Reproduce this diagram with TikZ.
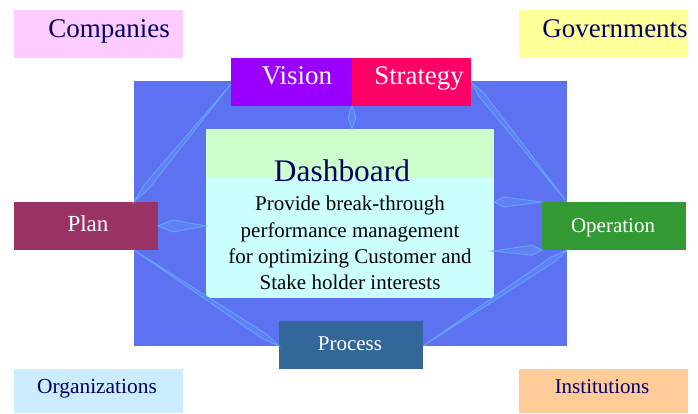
\documentclass[tikz,border=0pt]{standalone}
\usepackage{fontspec}
\setmainfont{Liberation Serif}
\usetikzlibrary{calc}
\definecolor{bgblue}{RGB}{92,114,240}
\definecolor{kiteblue}{RGB}{102,163,255}
\definecolor{navy}{RGB}{0,0,102}
\definecolor{cpink}{RGB}{255,204,255}
\definecolor{cyellow}{RGB}{255,255,153}
\definecolor{clblue}{RGB}{204,236,255}
\definecolor{corange}{RGB}{255,204,153}
\definecolor{cvision}{RGB}{153,0,255}
\definecolor{cstrat}{RGB}{255,0,102}
\definecolor{cplan}{RGB}{153,51,102}
\definecolor{coper}{RGB}{51,153,51}
\definecolor{cproc}{RGB}{51,102,153}
\definecolor{cdgreen}{RGB}{204,255,204}
\definecolor{cdcyan}{RGB}{204,255,255}
\newcommand\kite[4]{%
  \draw[kitestyle] (#1) -- ($(#1)!#3!(#2)!#4pt!90:(#2)$) -- (#2)
    -- ($(#1)!#3!(#2)!#4pt!-90:(#2)$) -- cycle;}
\begin{document}
\begin{tikzpicture}[x=1pt,y=-1pt,
  box/.style={inner sep=0pt, outer sep=0pt, anchor=north west, draw=none},
  corner/.style={box, minimum width=169pt, minimum height=48pt},
  cornertext/.style={inner sep=0pt, anchor=base, text=navy},
  white/.style={inner sep=0pt, anchor=base, text=white},
  kitestyle/.style={draw=kiteblue, line width=0.9pt, line join=miter, fill=bgblue!70!kiteblue}]
\useasboundingbox (0,0) rectangle (698,413);
% corner boxes
\node[corner, fill=cpink] (comp) at (14,10) {};
\node[cornertext, font=\fontsize{27}{30}\selectfont] (comptxt) at (109,37) {Companies};
\node[corner, fill=cyellow] (gov) at (519,10) {};
\node[cornertext, font=\fontsize{27}{30}\selectfont] (govtxt) at (615,37) {Governments};
\node[corner, fill=clblue, minimum height=44pt] (org) at (14,369) {};
\node[cornertext, font=\fontsize{21.4}{24}\selectfont] (orgtxt) at (97,393) {Organizations};
\node[corner, fill=corange, minimum height=44pt] (inst) at (519,369) {};
\node[cornertext, font=\fontsize{21}{24}\selectfont] (insttxt) at (602,393) {Institutions};
% background
\node[box, fill=bgblue, minimum width=433pt, minimum height=265pt] (bg) at (134,81) {};
% dashboard
\node[box, fill=cdcyan, minimum width=288pt, minimum height=169pt] (dash) at (206,129) {};
\node[box, fill=cdgreen, minimum width=288pt, minimum height=48pt] (dashtop) at (206,129) {};
\node[inner sep=0pt, anchor=base, text=navy, font=\fontsize{31.4}{34}\selectfont] (dashtxt) at (342,181) {Dashboard};
\node[inner sep=0pt, align=center, font=\fontsize{21}{26.3}\selectfont] (body) at (350,243)
  {Provide break-through\\performance management\\for optimizing Customer and\\Stake holder interests};
% top boxes
\node[box, fill=cvision, minimum width=121pt, minimum height=48pt] (vision) at (231,58) {};
\node[white, font=\fontsize{27}{30}\selectfont] (visiontxt) at (297,84) {Vision};
\node[box, fill=cstrat, minimum width=119pt, minimum height=48pt] (strat) at (352,58) {};
\node[white, font=\fontsize{26.8}{30}\selectfont] (strattxt) at (419,84) {Strategy};
% side boxes
\node[box, fill=cplan, minimum width=144pt, minimum height=48pt] (plan) at (14,202) {};
\node[white, font=\fontsize{23}{26}\selectfont] (plantxt) at (88,231) {Plan};
\node[box, fill=coper, minimum width=144pt, minimum height=48pt] (oper) at (542,202) {};
\node[white, font=\fontsize{21}{24}\selectfont] (opertxt) at (613,232) {Operation};
\node[box, fill=cproc, minimum width=144pt, minimum height=48pt] (proc) at (279,321) {};
\node[white, font=\fontsize{21}{24}\selectfont] (proctxt) at (350,350) {Process};
% connector end points
\coordinate (k1a) at (strat.south west);
\coordinate (k1b) at (dash.north -| strat.south west);
\coordinate (k2a) at ($(vision.west)+(0,2)$);
\coordinate (k2b) at (bg.west |- plan.north);
\coordinate (k3a) at (dash.west |- plan.east);
\coordinate (k3b) at (plan.east);
\coordinate (k4a) at (bg.west |- plan.south);
\coordinate (k4b) at (proc.west |- bg.south);
\coordinate (k5a) at ($(strat.north east)+(1,25)$);
\coordinate (k5b) at (bg.east |- oper.north);
\coordinate (k6a) at (oper.north west);
\coordinate (k6b) at (dash.east |- oper.north);
\coordinate (k7a) at ($(dash.east |- oper.south)+(-2,1)$);
\coordinate (k7b) at (oper.south west);
\coordinate (k8a) at (proc.east |- bg.south);
\coordinate (k8b) at (bg.east |- oper.south);
% connectors
\kite{k1a}{k1b}{0.5}{4}
\kite{k2a}{k2b}{0.87}{3}
\kite{k3a}{k3b}{0.69}{6}
\kite{k4a}{k4b}{0.9}{3}
\kite{k5a}{k5b}{0.1}{3}
\kite{k6a}{k6b}{0.8}{5}
\kite{k7a}{k7b}{0.8}{5}
\kite{k8a}{k8b}{0.9}{3}
\end{tikzpicture}
\end{document}
